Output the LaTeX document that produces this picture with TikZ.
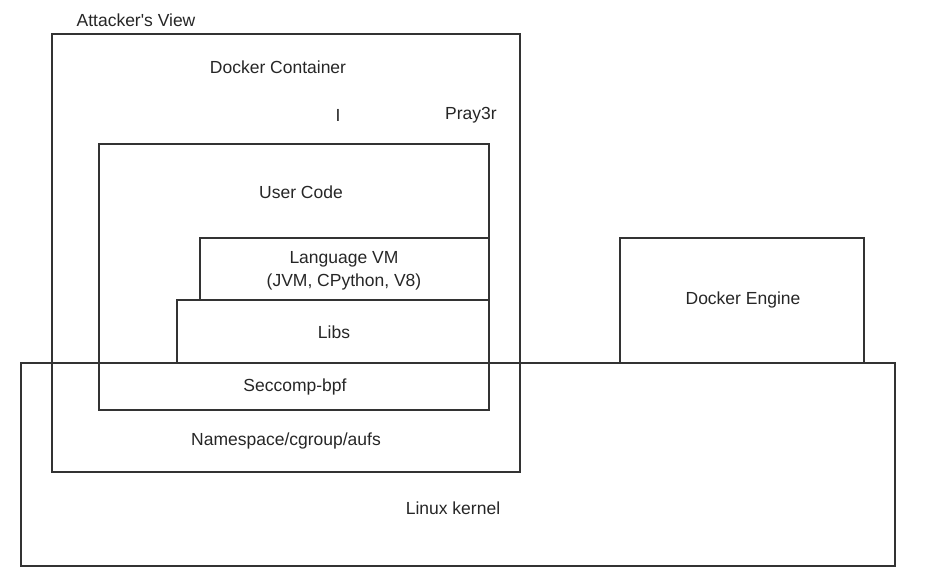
\documentclass[tikz,border=0pt]{standalone}
\usepackage{fontspec}
\setmainfont{Liberation Sans}
\begin{document}
\begin{tikzpicture}[x=1pt,y=-1pt,
  box/.style={draw=black!80,line width=1.2pt,rectangle,inner sep=0pt},
  lbl/.style={text=black!85,inner sep=0pt,font=\fontsize{17.5}{23.5}\selectfont,align=center}]
\useasboundingbox (0,0) rectangle (934,576);
% boxes
\node[box,minimum width=468pt,minimum height=438pt] (container) at (286,253) {};
\node[box,minimum width=390pt,minimum height=266pt] (user) at (294,277) {};
\node[box,minimum width=289pt,minimum height=62pt] (vm) at (344.5,269) {};
\node[box,minimum width=312pt,minimum height=63pt] (libs) at (333,331.5) {};
\node[box,minimum width=874pt,minimum height=203pt] (kernel) at (458,464.5) {};
\node[box,minimum width=244pt,minimum height=125pt] (engine) at (742,300.5) {};
% labels
\node[lbl] (attv) at (136,20) {Attacker\textquotesingle s View};
\node[lbl] (dct) at (278,67) {Docker Container};
\node[lbl] (cur) at (338,115) {I};
\node[lbl] (pray) at (471,115) {Pray3r};
\node[lbl] (uct) at (301,192) {User Code};
\node[lbl] (vmt) at (344,271) {Language VM\\(JVM, CPython, V8)};
\node[lbl] (libt) at (334,332) {Libs};
\node[lbl] (sect) at (295,387) {Seccomp-bpf};
\node[lbl] (nst) at (286,441) {Namespace/cgroup/aufs};
\node[lbl] (lkt) at (453,508) {Linux kernel};
\node[lbl] (det) at (743,300) {Docker Engine};
\end{tikzpicture}
\end{document}
